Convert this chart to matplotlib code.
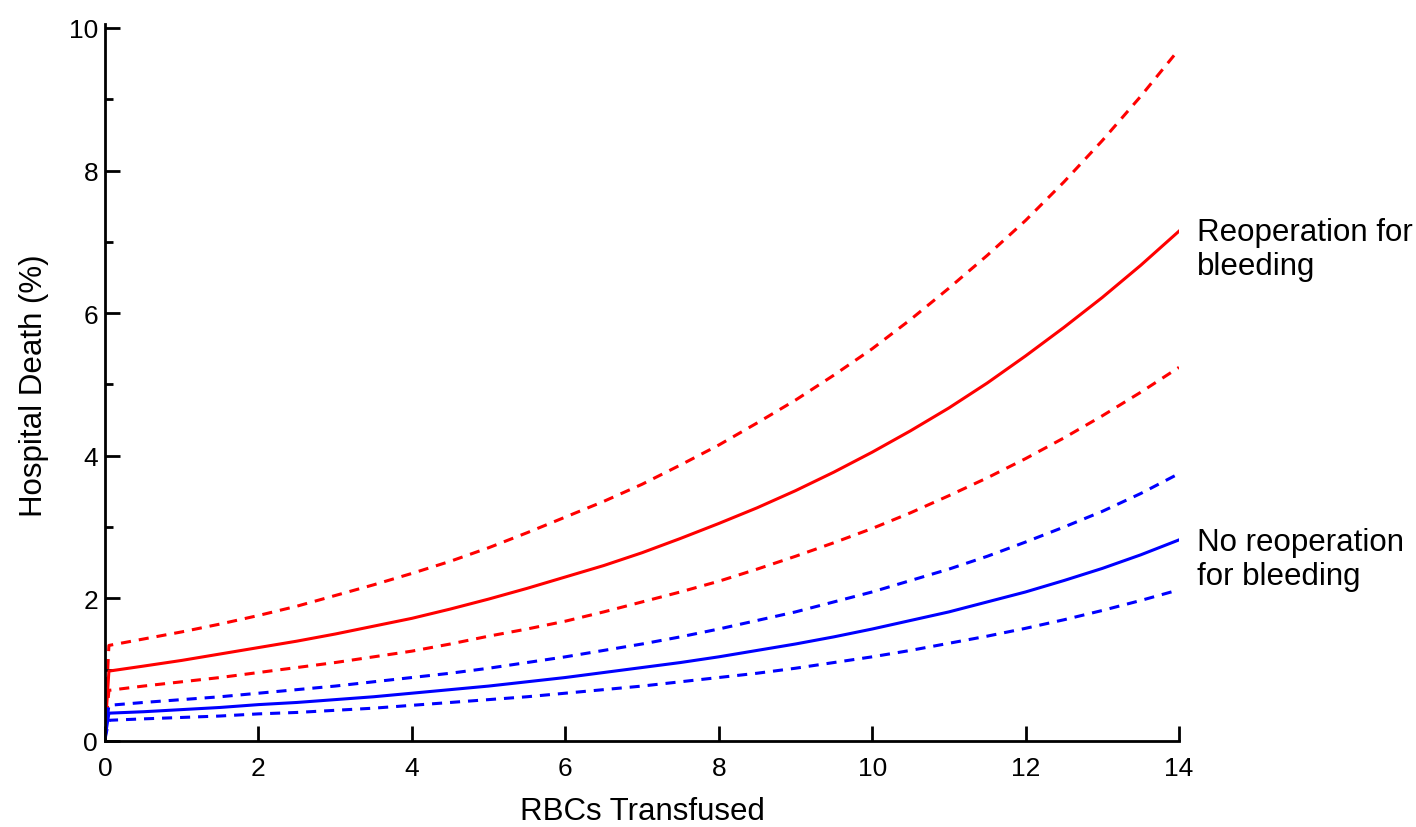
import numpy as np
import matplotlib.pyplot as plt
from matplotlib.ticker import MultipleLocator

plt.rcParams['font.family'] = ['Liberation Sans', 'DejaVu Sans']

# RBC units transfused
rbc = [0, 0.05, 0.5, 1, 1.5, 2, 2.5, 3, 3.5, 4, 4.5, 5, 5.5, 6, 6.5, 7, 7.5, 8, 8.5,
       9, 9.5, 10, 10.5, 11, 11.5, 12, 12.5, 13, 13.5, 14]

# hospital death (%), reoperation for bleeding
reop_mid = [0.15, 0.98, 1.05, 1.13, 1.22, 1.31, 1.40, 1.50, 1.61, 1.72, 1.85, 1.99, 2.14,
            2.30, 2.46, 2.64, 2.84, 3.05, 3.27, 3.51, 3.77, 4.05, 4.35, 4.67, 5.02, 5.40,
            5.80, 6.22, 6.67, 7.15]
reop_hi = [0.25, 1.34, 1.43, 1.53, 1.64, 1.76, 1.89, 2.04, 2.19, 2.35, 2.52, 2.71, 2.92,
           3.14, 3.36, 3.60, 3.87, 4.15, 4.46, 4.78, 5.13, 5.50, 5.91, 6.35, 6.81, 7.30,
           7.84, 8.42, 9.04, 9.70]
reop_lo = [0.10, 0.71, 0.77, 0.83, 0.89, 0.96, 1.03, 1.10, 1.18, 1.26, 1.36, 1.47, 1.57,
           1.68, 1.81, 1.95, 2.09, 2.24, 2.41, 2.59, 2.78, 2.98, 3.20, 3.44, 3.69, 3.96,
           4.25, 4.56, 4.89, 5.24]

# hospital death (%), no reoperation
noreop_mid = [0.05, 0.39, 0.41, 0.44, 0.47, 0.51, 0.54, 0.58, 0.62, 0.67, 0.72, 0.77, 0.83,
              0.89, 0.96, 1.03, 1.10, 1.18, 1.27, 1.36, 1.46, 1.57, 1.69, 1.81, 1.95, 2.09,
              2.25, 2.42, 2.61, 2.82]
noreop_hi = [0.08, 0.50, 0.54, 0.58, 0.62, 0.67, 0.72, 0.77, 0.83, 0.89, 0.95, 1.02, 1.10,
             1.18, 1.27, 1.36, 1.46, 1.57, 1.69, 1.81, 1.95, 2.09, 2.25, 2.41, 2.59, 2.79,
             3.00, 3.22, 3.47, 3.75]
noreop_lo = [0.03, 0.29, 0.31, 0.33, 0.35, 0.38, 0.40, 0.43, 0.46, 0.50, 0.54, 0.58, 0.62,
             0.67, 0.72, 0.77, 0.83, 0.89, 0.95, 1.02, 1.10, 1.18, 1.27, 1.37, 1.47, 1.58,
             1.70, 1.83, 1.97, 2.12]

fig = plt.figure(figsize=(14.16, 8.28), dpi=100)
ax = fig.add_axes([0.0742, 0.1039, 0.7584, 0.8611])

lw = 2.2
dash = (3.3, 2.6)
ax.plot(rbc, reop_hi, color='#ff0000', lw=lw, dashes=dash)
ax.plot(rbc, reop_lo, color='#ff0000', lw=lw, dashes=dash)
ax.plot(rbc, reop_mid, color='#ff0000', lw=lw)
ax.plot(rbc, noreop_hi, color='#0000ff', lw=lw, dashes=dash)
ax.plot(rbc, noreop_lo, color='#0000ff', lw=lw, dashes=dash)
ax.plot(rbc, noreop_mid, color='#0000ff', lw=lw)

ax.set_xlim(0, 14)
ax.set_ylim(0, 10)
for s in ['top', 'right']:
    ax.spines[s].set_visible(False)
for s in ['left', 'bottom']:
    ax.spines[s].set_linewidth(2)
ax.spines['left'].set_bounds(0, 10.05)

ax.xaxis.set_major_locator(MultipleLocator(2))
ax.yaxis.set_major_locator(MultipleLocator(2))
ax.yaxis.set_minor_locator(MultipleLocator(1))
ax.tick_params(axis='both', which='major', direction='in', length=11, width=2, labelsize=19)
ax.tick_params(axis='y', which='minor', direction='in', length=6, width=2)
ax.tick_params(axis='x', pad=11)
ax.tick_params(axis='y', pad=5)

ax.set_xlabel('RBCs Transfused', fontsize=22.5, labelpad=11)
ax.set_ylabel('Hospital Death (%)', fontsize=22.5, labelpad=14)

ax.text(14.24, 6.9, 'Reoperation for\nbleeding', fontsize=22.5, va='center', ha='left',
        linespacing=1.2, clip_on=False)
ax.text(14.24, 2.55, 'No reoperation\nfor bleeding', fontsize=22.5, va='center', ha='left',
        linespacing=1.2, clip_on=False)

fig.savefig('out.png', dpi=100)
